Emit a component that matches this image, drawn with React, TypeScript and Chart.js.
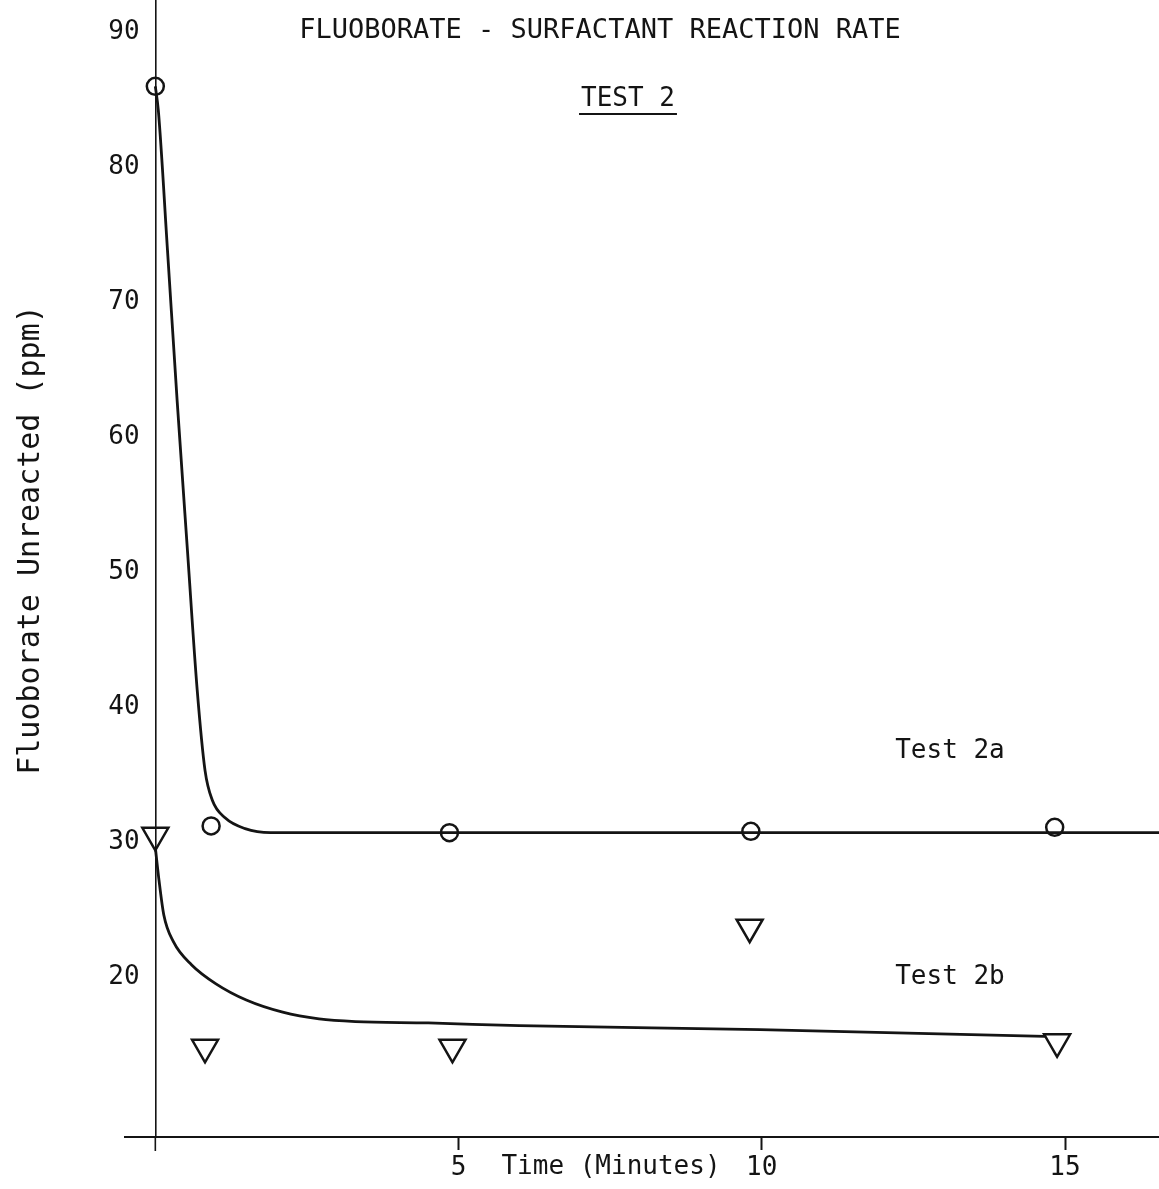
import React, { useEffect, useRef } from 'react';
import { Chart, registerables } from 'chart.js';

Chart.register(...registerables);

// ---- Text ----
const chartTitle = 'FLUOBORATE - SURFACTANT REACTION RATE';
const chartSubtitle = 'TEST 2';
const xAxisTitle = 'Time (Minutes)';
const yAxisTitle = 'Fluoborate Unreacted (ppm)';
const seriesLabels = ['Test 2a', 'Test 2b'];

// ---- Tick values ----
const xTickValues = [5, 10, 15];
const yTickValues = [20, 30, 40, 50, 60, 70, 80, 90];

// ---- Measured points (time in minutes, fluoborate ppm) ----
const test2aTimes = [0, 0.92, 4.85, 9.82, 14.83];
const test2aValues = [86.0, 31.2, 30.7, 30.8, 31.1];
const test2bTimes = [0, 0.82, 4.9, 9.8, 14.87];
const test2bValues = [30.5, 14.8, 14.8, 23.7, 15.2];

// ---- Hand-drawn fitted curves ----
const fit2aTimes = [0, 0.05, 0.2, 0.36, 0.53, 0.69, 0.82, 0.94, 1.15, 1.48, 1.9, 16.6];
const fit2aValues = [86, 84.2, 73.9, 62.7, 51.6, 41.3, 35.3, 33.1, 31.8, 31.0, 30.7, 30.7];
const fit2bTimes = [0, 0.06, 0.14, 0.3, 0.6, 1.0, 1.5, 2.1, 2.7, 3.3, 4.5, 6.0, 9.97, 14.67];
const fit2bValues = [29.6, 27.2, 24.6, 22.6, 20.9, 19.5, 18.3, 17.4, 16.9, 16.7, 16.6, 16.4, 16.1, 15.6];

const zip = (xs: number[], ys: number[]) => xs.map((x, i) => ({ x, y: ys[i] }));

const FONT = '"DejaVu Sans Mono", monospace';
const INK = '#141414';

const X_MIN = -0.5;
const X_MAX = 16.55;
const Y_MIN = 8.15;
const Y_MAX = 92.4;

const noScalePadding = (scale: any) => {
  scale.paddingTop = 0;
  scale.paddingBottom = 0;
  scale.paddingLeft = 0;
  scale.paddingRight = 0;
};

const textPlugin = {
  id: 'typedText',
  afterDraw(chart: any) {
    const { ctx, scales } = chart;
    const xs = scales.x;
    const ys = scales.y;
    ctx.save();
    ctx.fillStyle = INK;
    ctx.strokeStyle = INK;

    // title
    ctx.font = `27px ${FONT}`;
    ctx.textAlign = 'center';
    ctx.textBaseline = 'middle';
    ctx.fillText(chartTitle, 600, 31);

    // subtitle underlined
    ctx.font = `26px ${FONT}`;
    ctx.fillText(chartSubtitle, 628, 99);
    const w = ctx.measureText(chartSubtitle).width;
    ctx.lineWidth = 2;
    ctx.beginPath();
    ctx.moveTo(628 - w / 2 - 2, 114);
    ctx.lineTo(628 + w / 2 + 2, 114);
    ctx.stroke();

    // y title
    ctx.save();
    ctx.translate(31, 540);
    ctx.rotate(-Math.PI / 2);
    ctx.font = `30px ${FONT}`;
    ctx.textAlign = 'center';
    ctx.textBaseline = 'middle';
    ctx.fillText(yAxisTitle, 0, 0);
    ctx.restore();

    // x title, on the tick-label line
    ctx.font = `26px ${FONT}`;
    ctx.textAlign = 'center';
    ctx.textBaseline = 'middle';
    ctx.fillText(xAxisTitle, 611, 1167);

    // series labels
    ctx.textAlign = 'left';
    ctx.fillText(seriesLabels[0], xs.getPixelForValue(12.2), ys.getPixelForValue(36.7));
    ctx.fillText(seriesLabels[1], xs.getPixelForValue(12.2), ys.getPixelForValue(20.0));

    // y axis line runs slightly past the x axis
    const x0 = xs.getPixelForValue(0);
    ctx.lineWidth = 1.6;
    ctx.beginPath();
    ctx.moveTo(x0, chart.chartArea.bottom);
    ctx.lineTo(x0, chart.chartArea.bottom + 14);
    ctx.stroke();
    ctx.restore();
  },
};

export default function App() {
  const canvasRef = useRef<HTMLCanvasElement | null>(null);

  useEffect(() => {
    if (!canvasRef.current) return;
    const pointCommon = {
      showLine: false,
      borderColor: INK,
      backgroundColor: 'rgba(0,0,0,0)',
      pointBorderWidth: 2.5,
    };
    const lineCommon = {
      showLine: true,
      borderColor: INK,
      borderWidth: 2.8,
      pointRadius: 0,
      fill: false,
      cubicInterpolationMode: 'monotone' as const,
    };
    const chart = new Chart(canvasRef.current, {
      type: 'scatter',
      data: {
        datasets: [
          { label: 'Test 2a curve', data: zip(fit2aTimes, fit2aValues), ...lineCommon },
          { label: 'Test 2b curve', data: zip(fit2bTimes, fit2bValues), ...lineCommon },
          {
            label: seriesLabels[0],
            data: zip(test2aTimes, test2aValues),
            ...pointCommon,
            pointStyle: 'circle',
            pointRadius: 8.5,
          },
          {
            label: seriesLabels[1],
            data: zip(test2bTimes, test2bValues),
            ...pointCommon,
            pointStyle: 'triangle',
            pointRotation: 180,
            pointRadius: 15,
          },
        ],
      },
      options: {
        animation: false,
        responsive: false,
        layout: { autoPadding: false, padding: { left: 125, right: 0, top: 0, bottom: 52 } },
        plugins: {
          legend: { display: false },
          tooltip: { enabled: false },
          title: { display: false },
        },
        scales: {
          x: {
            type: 'linear',
            min: X_MIN,
            max: X_MAX,
            position: { y: Y_MIN } as any,
            afterBuildTicks: (scale: any) => {
              scale.ticks = xTickValues.map((v) => ({ value: v }));
            },
            afterFit: noScalePadding,
            grid: { display: true, drawOnChartArea: false, tickLength: 12, tickWidth: 2, tickColor: INK },
            border: { display: true, color: INK, width: 2 },
            ticks: {
              color: INK,
              font: { family: FONT, size: 26 },
              padding: 4,
              maxRotation: 0,
              autoSkip: false,
              callback: (v: any) => String(v),
            },
          },
          y: {
            type: 'linear',
            min: Y_MIN,
            max: Y_MAX,
            position: { x: 0 } as any,
            afterBuildTicks: (scale: any) => {
              scale.ticks = yTickValues.map((v) => ({ value: v }));
            },
            afterFit: noScalePadding,
            grid: { display: false },
            border: { display: true, color: INK, width: 1.6 },
            ticks: {
              color: INK,
              font: { family: FONT, size: 26 },
              padding: 20,
              autoSkip: false,
              // trailing space keeps the typed numbers clear of the axis line
              callback: (v: any) => String(v) + ' ',
            },
          },
        },
      },
      plugins: [textPlugin],
    });
    return () => chart.destroy();
  }, []);

  return (
    <div style={{ position: 'absolute', left: 0, top: 0, width: 1159, height: 1189, background: '#fff' }}>
      <canvas ref={canvasRef} width={1159} height={1189} style={{ display: 'block' }} />
    </div>
  );
}
